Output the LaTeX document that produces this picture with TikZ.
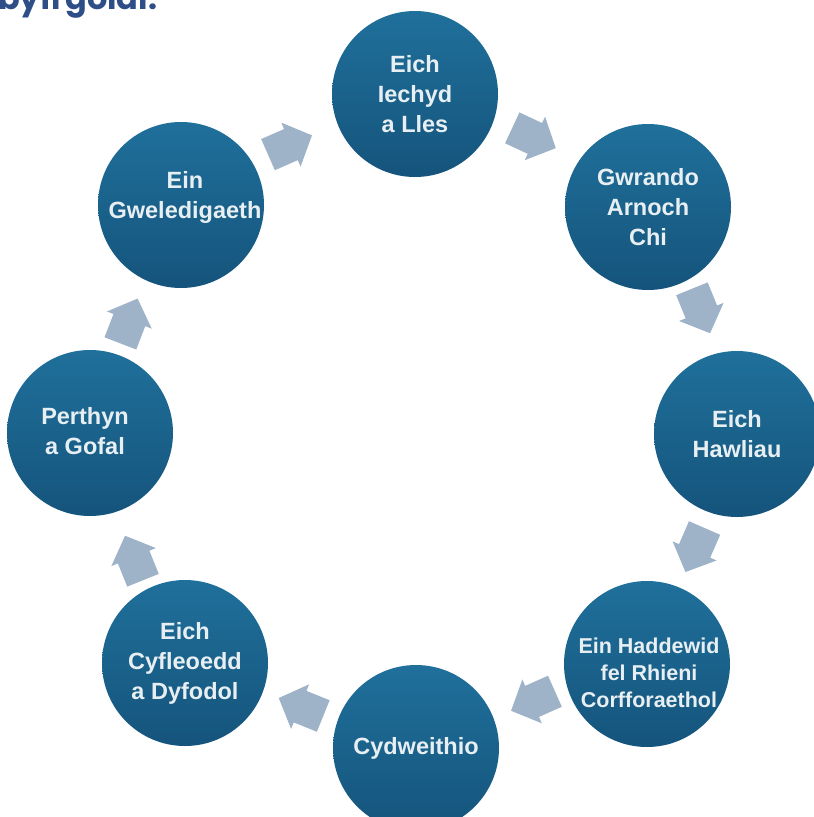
\documentclass[tikz,border=0pt]{standalone}
\usepackage{fontspec}
\setmainfont{Liberation Sans}
\newfontfamily\titlefont{Poppins}
\definecolor{circtop}{RGB}{31,112,155}
\definecolor{circbot}{RGB}{21,84,124}
\definecolor{txtc}{RGB}{232,239,243}
\definecolor{arrowc}{RGB}{158,178,200}
\definecolor{titleblue}{RGB}{46,78,136}
\tikzset{
  stage/.style={circle, minimum size=166pt, inner sep=0pt, top color=circtop, bottom color=circbot, draw=none, text=txtc, font=\fontsize{23.5}{30}\selectfont\bfseries, align=center},
  stagetext/.style={text=txtc, align=center, inner sep=0pt, font=\fontsize{23.5}{30}\selectfont\bfseries},
  blk/.pic={\fill[arrowc] (-24,-17) -- (1,-17) -- (1,-24) -- (24,0) -- (1,24) -- (1,17) -- (-24,17) -- cycle;}
}
\begin{document}
\begin{tikzpicture}[x=1pt,y=-1pt]
\useasboundingbox (0,0) rectangle (814,817);
\node[anchor=base west, inner sep=0pt, text=titleblue, font=\titlefont\bfseries\fontsize{32}{32}\selectfont] (title) at (-2,9) {byfrgolal.};
% circles
\node[stage] (c1) at (415,94) {Eich\\Iechyd\\a Lles};
\node[stage] (c2) at (648,207) {Gwrando\\Arnoch\\Chi};
\node[stage] (c3) at (737,434) {Eich\\Hawliau};
\node[stage] (c4) at (647,664) {};
\node[stagetext, font=\fontsize{21.5}{27}\selectfont\bfseries] (t4) at (649,673) {Ein Haddewid\\fel Rhieni\\Corfforaethol};
\node[stage] (c5) at (416,748) {Cydweithio};
\node[stage] (c6) at (185,663) {Eich\\Cyfleoedd\\a Dyfodol};
\node[stage] (c7) at (90,433) {};
\node[stagetext] (t7) at (85,431) {Perthyn\\a Gofal};
\node[stage] (c8) at (181,205) {};
\node[stagetext] (t8) at (185,197) {Ein\\Gweledigaeth};
% arrows
\coordinate (a12) at (534,138);
\coordinate (a23) at (701,311);
\coordinate (a34) at (695,550);
\coordinate (a45) at (533,701);
\coordinate (a56) at (301,707);
\coordinate (a67) at (134,558);
\coordinate (a78) at (129,321);
\coordinate (a81) at (290,145);
\pic[rotate=-25] at (a12) {blk};
\pic[rotate=-67.8] at (a23) {blk};
\pic[rotate=-113.5] at (a34) {blk};
\pic[rotate=-156] at (a45) {blk};
\pic[rotate=158] at (a56) {blk};
\pic[rotate=112] at (a67) {blk};
\pic[rotate=69] at (a78) {blk};
\pic[rotate=23.7] at (a81) {blk};
\end{tikzpicture}
\end{document}
